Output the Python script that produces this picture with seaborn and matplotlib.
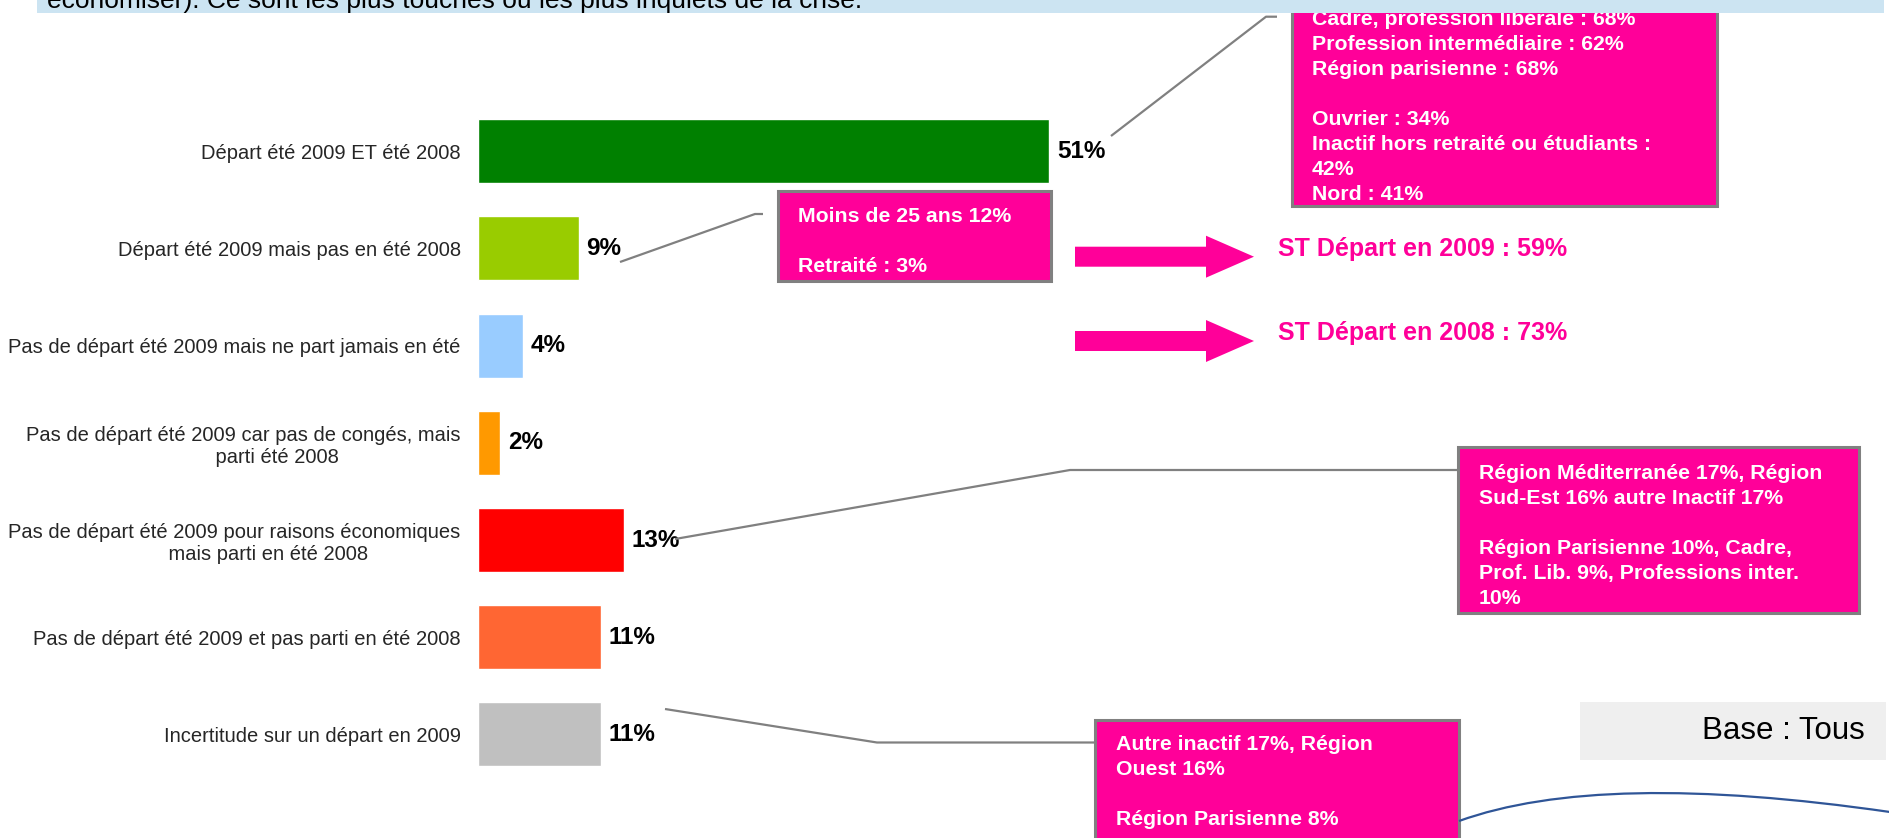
import numpy as np
import pandas as pd
import matplotlib
matplotlib.use("Agg")
import matplotlib.pyplot as plt
import matplotlib.patches as mpatches
from matplotlib.path import Path
import seaborn as sns

# ---- data ----
categories = [
    "Départ été 2009 ET été 2008",
    "Départ été 2009 mais pas en été 2008",
    "Pas de départ été 2009 mais ne part jamais en été",
    "Pas de départ été 2009 car pas de congés, mais\n" + " " * 12 + "parti été 2008",
    "Pas de départ été 2009 pour raisons économiques\n" + " " * 12 + "mais parti en été 2008",
    "Pas de départ été 2009 et pas parti en été 2008",
    "Incertitude sur un départ en 2009",
]
values = [51, 9, 4, 2, 13, 11, 11]
bar_colors = ["#008000", "#99cc00", "#99ccff", "#ff9900", "#ff0000", "#ff6633", "#c0c0c0"]

box_top_right = ["Cadre, profession libérale : 68%", "Profession intermédiaire : 62%",
                 "Région parisienne : 68%", "", "Ouvrier : 34%",
                 "Inactif hors retraité ou étudiants :", "42%", "Nord : 41%"]
box_middle = ["Moins de 25 ans 12%", "", "Retraité : 3%"]
box_right = ["Région Méditerranée 17%, Région", "Sud-Est 16% autre Inactif 17%", "",
             "Région Parisienne 10%, Cadre,", "Prof. Lib. 9%, Professions inter.", "10%"]
box_bottom = ["Autre inactif 17%, Région", "Ouest 16%", "", "Région Parisienne 8%"]
st_labels = ["ST Départ en 2009 : 59%", "ST Départ en 2008 : 73%"]
banner_text = "économiser). Ce sont les plus touchés ou les plus inquiets de la crise."
base_text = "Base : Tous"

PINK = "#ff0099"
GREY = "#808080"

sns.set_style("white")
plt.rcParams["font.family"] = ["Liberation Sans", "DejaVu Sans"]

W, H = 1890, 838
fig = plt.figure(figsize=(W / 100, H / 100), dpi=100)

# bar axes: x=0 at pixel 478, 11.2 px per percent
x0 = 478
px_per = 11.2
ax = fig.add_axes([x0 / W, 0, 1 - x0 / W, 1])
df = pd.DataFrame({"cat": categories, "val": values})
sns.barplot(data=df, x="val", y="cat", hue="cat", palette=bar_colors, legend=False,
            orient="h", width=0.66, saturation=1, ax=ax)
ax.set_xlim(0, (W - x0) / px_per)
ax.set_ylim(7.066, -1.556)
for cont, v in zip(ax.containers, values):
    ax.bar_label(cont, labels=[f"{v}%"], padding=5.5, fontsize=17.5, fontweight="bold",
                 color="black")
ax.set_xlabel("")
ax.set_ylabel("")
ax.set_xticks([])
ax.tick_params(axis="y", length=0, pad=12.5, labelsize=14.5)
for lab in ax.get_yticklabels():
    lab.set_multialignment("center")
sns.despine(ax=ax, left=True, bottom=True)

# overlay in pixel coordinates for annotations
deco = fig.add_axes([0, 0, 1, 1], zorder=5)
deco.set_xlim(0, W)
deco.set_ylim(H, 0)
deco.axis("off")
deco.patch.set_alpha(0)


def box(x1, y1, x2, y2, lines, tx, ty):
    deco.add_patch(mpatches.Rectangle((x1, y1), x2 - x1, y2 - y1, facecolor=PINK,
                                      edgecolor=GREY, lw=2.2))
    deco.text(tx, ty, "\n".join(lines), color="white", fontsize=15.3, fontweight="bold",
              ha="left", va="center", linespacing=1.4)


def leader(pts):
    xs, ys = zip(*pts)
    deco.plot(xs, ys, color=GREY, lw=1.6, solid_capstyle="butt")


box(1292, -40, 1717, 205.7, box_top_right, 1312, 107)
box(778, 191, 1051, 281, box_middle, 798, 241.5)
box(1458, 446.7, 1859, 613, box_right, 1479, 536)
box(1095, 719.5, 1459, 900, box_bottom, 1116, 782)

leader([(1111, 136), (1266, 16.7), (1277, 16.7)])
leader([(620, 262), (755, 214), (763, 214)])
leader([(675, 539), (1070, 470), (1458, 470)])
leader([(665, 709), (877, 742.5), (1095, 742.5)])

for yc, lab in zip([256.7, 341], st_labels):
    deco.add_patch(mpatches.FancyArrow(1075, yc, 179, 0, width=20, head_width=42,
                                       head_length=48, length_includes_head=True,
                                       color=PINK, lw=0))
    deco.text(1278, yc - 8, lab, color=PINK, fontsize=18, fontweight="bold",
              ha="left", va="center")

# base box
deco.add_patch(mpatches.Rectangle((1580, 702), 306, 58, facecolor="#efefef", lw=0))
deco.text(1865, 731, base_text, fontsize=22.5, ha="right", va="center", color="black")

# decorative curve
curve = Path([(1459, 821), (1600, 770), (1890, 812)], [Path.MOVETO, Path.CURVE3, Path.CURVE3])
deco.add_patch(mpatches.PathPatch(curve, facecolor="none", edgecolor="#2f5597", lw=1.6))

# top banner (cut off by the top edge)
deco.add_patch(mpatches.Rectangle((37, -20), 1847, 33.5, facecolor="#cce4f2", lw=0, zorder=6))
bt = deco.text(47, 8, banner_text, fontsize=16, ha="left", va="baseline",
               color="black", zorder=7)
fig.canvas.draw()
ext = bt.get_window_extent()
bt.set_fontsize(16 * 816 / ext.width)

fig.savefig("out.png", dpi=100)
